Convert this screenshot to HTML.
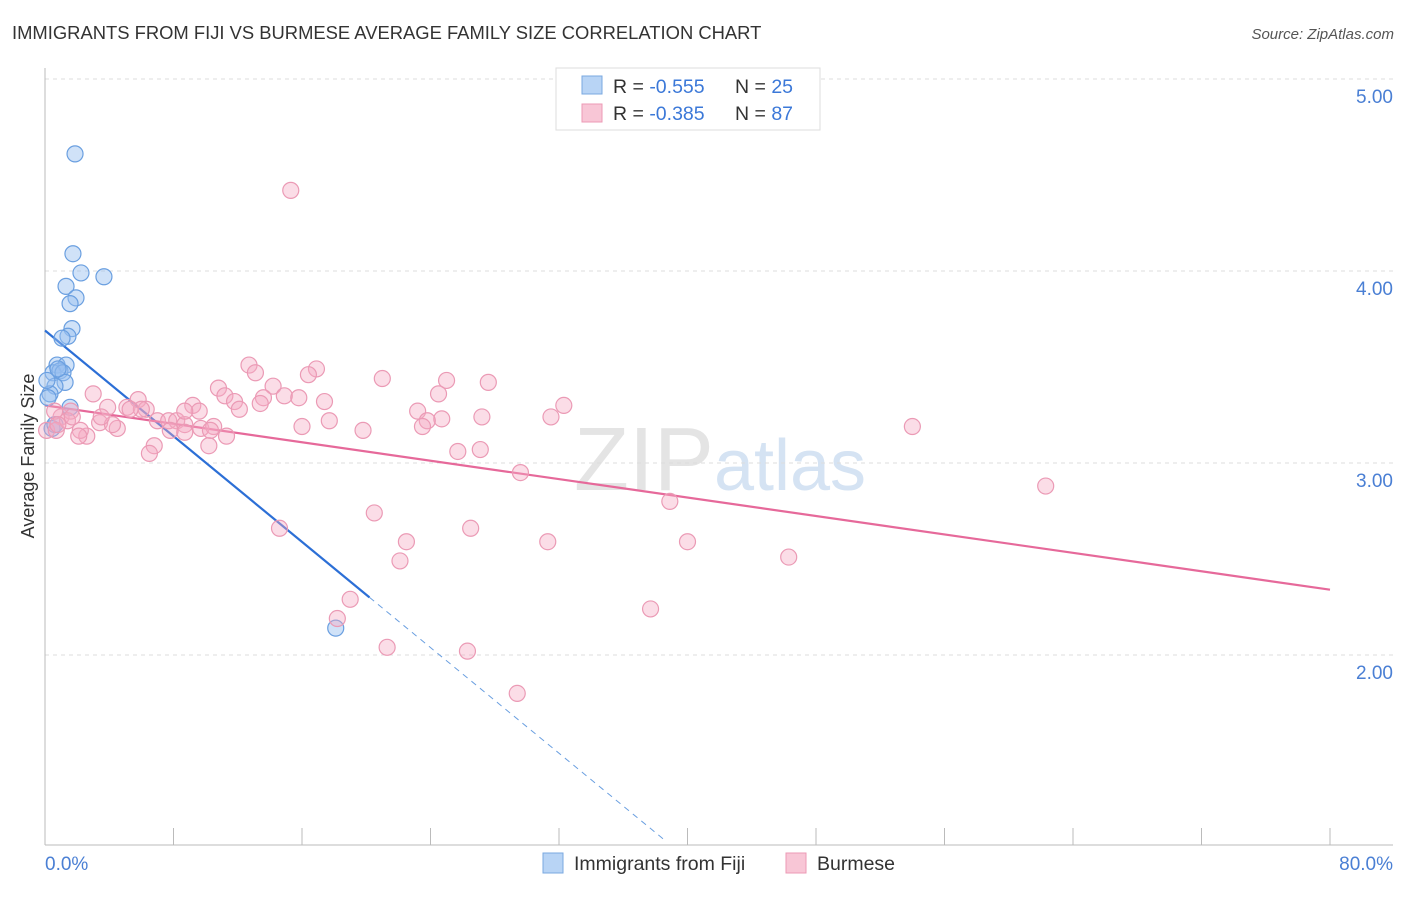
<!DOCTYPE html>
<html><head><meta charset="utf-8"><style>
body{margin:0;background:#fff;font-family:"Liberation Sans",sans-serif;}
svg text{font-family:"Liberation Sans",sans-serif;}
</style></head><body>
<svg id="chart" width="1406" height="892" xmlns="http://www.w3.org/2000/svg">
<text x="12" y="39" font-size="18.4" fill="#333">IMMIGRANTS FROM FIJI VS BURMESE AVERAGE FAMILY SIZE CORRELATION CHART</text>
<text x="1394" y="39" font-size="15" fill="#555" text-anchor="end" font-style="italic">Source: ZipAtlas.com</text>
<text x="720" y="490" font-size="90" fill="#e4e4e4" text-anchor="middle" font-family="Liberation Serif">ZIP<tspan fill="#d5e3f3" font-family="Liberation Sans" font-size="72">atlas</tspan></text>
<g id="grid"></g><g id="axes"></g><g id="lines"></g><g id="points"></g>
<text transform="translate(34,456) rotate(-90)" font-size="18" fill="#333" text-anchor="middle">Average Family Size</text>
<text x="45" y="870" font-size="19" fill="#4a7fd4">0.0%</text>
<text x="1393" y="870" font-size="19" fill="#4a7fd4" text-anchor="end">80.0%</text>
<g>
<rect x="556" y="68" width="264" height="62" fill="#fff" stroke="#ddd"/>
<rect x="582" y="76" width="20" height="18" fill="#b8d4f5" stroke="#7aa8e0"/>
<rect x="582" y="104" width="20" height="18" fill="#f8c6d6" stroke="#ec9ab5"/>
<text x="613" y="93" font-size="19.5" fill="#333">R = <tspan fill="#3b78d8">-0.555</tspan></text>
<text x="735" y="93" font-size="19.5" fill="#333">N = <tspan fill="#3b78d8">25</tspan></text>
<text x="613" y="120" font-size="19.5" fill="#333">R = <tspan fill="#3b78d8">-0.385</tspan></text>
<text x="735" y="120" font-size="19.5" fill="#333">N = <tspan fill="#3b78d8">87</tspan></text>
</g>
<g>
<rect x="543" y="853" width="20" height="20" fill="#b8d4f5" stroke="#7aa8e0"/>
<text x="574" y="870" font-size="19.5" fill="#333">Immigrants from Fiji</text>
<rect x="786" y="853" width="20" height="20" fill="#f8c6d6" stroke="#ec9ab5"/>
<text x="817" y="870" font-size="19.5" fill="#333">Burmese</text>
</g>
</svg>
<script>
const yTicks=[2,3,4,5];
const yTickLabels=["2.00","3.00","4.00","5.00"];
const fijiX=[1.87,1.74,2.24,3.67,1.31,1.93,1.56,1.68,1.43,1.06,0.75,1.31,0.50,0.93,1.12,1.25,0.62,0.31,0.19,1.56,0.44,0.62,18.1,0.12,0.81];
const fijiY=[4.61,4.09,3.99,3.97,3.92,3.86,3.83,3.70,3.66,3.65,3.51,3.51,3.47,3.48,3.47,3.42,3.40,3.36,3.34,3.29,3.18,3.20,2.14,3.43,3.49];
const burX=[15.3,12.7,16.9,13.1,16.4,21.0,27.6,25.0,10.8,14.2,24.5,3.0,14.9,15.8,13.6,11.2,5.8,17.4,32.3,11.8,5.1,3.9,9.2,6.3,13.4,6.0,9.6,23.2,31.5,27.2,24.7,23.8,17.7,7.0,1.0,0.6,1.6,3.4,4.5,2.6,7.7,8.2,8.7,9.7,10.5,7.8,16.0,19.8,23.5,0.1,0.7,2.2,4.2,10.3,8.7,11.3,2.1,54.0,6.8,10.2,6.5,25.7,27.1,29.6,38.9,62.3,20.5,14.6,26.5,22.5,31.3,40.0,22.1,46.3,19.0,37.7,18.2,21.3,26.3,29.4,1.4,5.3,3.5,8.7,12.1,0.8,1.7];
const burY=[4.42,3.51,3.49,3.47,3.46,3.44,3.42,3.43,3.39,3.40,3.36,3.36,3.35,3.34,3.34,3.35,3.33,3.32,3.30,3.32,3.29,3.29,3.30,3.28,3.31,3.28,3.27,3.27,3.24,3.24,3.23,3.22,3.22,3.22,3.24,3.27,3.27,3.21,3.18,3.14,3.22,3.22,3.20,3.18,3.19,3.17,3.19,3.17,3.19,3.17,3.17,3.17,3.20,3.17,3.16,3.14,3.14,3.19,3.09,3.09,3.05,3.06,3.07,2.95,2.80,2.88,2.74,2.66,2.66,2.59,2.59,2.59,2.49,2.51,2.29,2.24,2.19,2.04,2.02,1.80,3.22,3.28,3.24,3.27,3.28,3.20,3.24];
const fijiFit=[3.69,-0.0688];
const burFit=[3.30,-0.012];
const X=v=>45+v/80*1285;
const Y=v=>79+(5-v)*192;
const NS="http://www.w3.org/2000/svg";
function mk(tag,attrs,parent){const e=document.createElementNS(NS,tag);for(const k in attrs)e.setAttribute(k,attrs[k]);document.getElementById(parent).appendChild(e);return e;}
yTicks.forEach((t,i)=>{
 const g=mk('line',{x1:45,x2:1393,y1:Y(t),y2:Y(t),stroke:'#ddd','stroke-dasharray':'4,4'},'grid');
 
 
 const tx=mk('text',{x:1393,y:Y(t)+24,'font-size':19,fill:'#4a7fd4','text-anchor':'end'},'grid');
 tx.textContent=yTickLabels[i];
 
 
});
const ax=mk('line',{x1:45,x2:1393,y1:845,y2:845,stroke:'#bbb'},'axes');


const ay=mk('line',{x1:45,x2:45,y1:68,y2:845,stroke:'#bbb'},'axes');


for(let i=0;i<=10;i++){
 const t=mk('line',{x1:X(i*8),x2:X(i*8),y1:828,y2:845,stroke:'#bbb'},'axes');
 
 
}
fijiX.forEach((x,i)=>{
 const c=mk('circle',{cx:X(x),cy:Y(fijiY[i]),r:8,fill:'rgba(150,190,240,0.45)',stroke:'#6a9fe0','stroke-width':1.2},'points');
 
 
});
burX.forEach((x,i)=>{
 const c=mk('circle',{cx:X(x),cy:Y(burY[i]),r:8,fill:'rgba(245,170,195,0.4)',stroke:'#eb9ab5','stroke-width':1.2},'points');
 
 
});
const fe=20.2, fd=38.7;
const l1=mk('line',{x1:X(0),y1:Y(fijiFit[0]),x2:X(fe),y2:Y(fijiFit[0]+fijiFit[1]*fe),stroke:'#2c6fd6','stroke-width':2.2},'lines');


const l2=mk('line',{x1:X(fe),y1:Y(fijiFit[0]+fijiFit[1]*fe),x2:X(fd),y2:Y(fijiFit[0]+fijiFit[1]*fd),stroke:'#6a9fe0','stroke-width':1,'stroke-dasharray':'6,5'},'lines');


const l3=mk('line',{x1:X(0),y1:Y(burFit[0]),x2:X(80),y2:Y(burFit[0]+burFit[1]*80),stroke:'#e6699a','stroke-width':2.2},'lines');


</script>
</body></html>
